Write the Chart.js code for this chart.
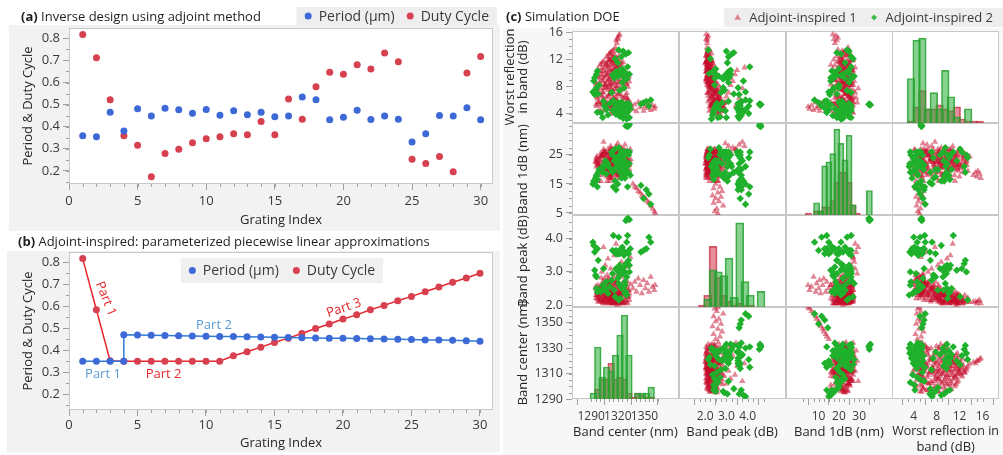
<!DOCTYPE html>
<html lang="en">
<head>
<meta charset="utf-8">
<title>Grating design and simulation DOE</title>
<script src="https://cdn.jsdelivr.net/npm/chart.js"></script>
<style>
  body { margin: 0; background: #fff; font-family: "Open Sans", sans-serif; }
  #page { position: relative; width: 1003px; height: 455px; overflow: hidden; }
  .shade { position: absolute; background: #f2f2f2; }
  .caption { position: absolute; font-size: 13px; line-height: 18px; color: #1e1e1e; white-space: nowrap; }
  canvas { position: absolute; }
</style>
</head>
<body>
<div id="page">
  <div class="shade" style="left:9px;top:25px;width:491px;height:206px"></div>
  <div class="shade" style="left:7px;top:251px;width:493px;height:201px"></div>
  <div class="shade" style="left:503px;top:28px;width:500px;height:427px;background:#f7f7f7"></div>
  <canvas id="chartA" width="500" height="230" style="left:0;top:0"></canvas>
  <canvas id="chartB" width="500" height="225" style="left:0;top:230px"></canvas>
  <canvas id="chartC" width="503" height="455" style="left:500px;top:0"></canvas>
  <div class="caption" style="left:21px;top:7px"><b>(a)</b> Inverse design using adjoint method</div>
  <div class="caption" style="left:18px;top:232px"><b>(b)</b> Adjoint-inspired: parameterized piecewise linear approximations</div>
  <div class="caption" style="left:506px;top:7px"><b>(c)</b> Simulation DOE</div>
</div>
<script>
/* ---- (a) adjoint-optimised grating ---- */
const gratingIndex = [1,2,3,4,5,6,7,8,9,10,11,12,13,14,15,16,17,18,19,20,21,22,23,24,25,26,27,28,29,30];
const periodAdjoint = [0.359,0.354,0.466,0.380,0.481,0.449,0.483,0.477,0.461,0.478,0.452,0.472,0.454,0.466,0.445,
                       0.449,0.534,0.522,0.431,0.443,0.474,0.433,0.448,0.434,0.331,0.368,0.451,0.449,0.486,0.431];
const dutyAdjoint = [0.818,0.712,0.522,0.359,0.316,0.173,0.279,0.298,0.327,0.345,0.354,0.368,0.363,0.424,0.363,
                     0.525,0.434,0.581,0.647,0.638,0.681,0.661,0.734,0.694,0.253,0.233,0.265,0.196,0.643,0.718];

/* ---- (b) piecewise linear version (period steps up at index 4) ---- */
const periodFitIndex = [1,2,3,4,4,5,6,7,8,9,10,11,12,13,14,15,16,17,18,19,20,21,22,23,24,25,26,27,28,29,30];
const periodFit = [0.35,0.35,0.35,0.35,0.470,0.469,0.468,0.467,0.466,0.465,0.464,0.463,0.462,0.461,0.460,0.459,
                   0.458,0.457,0.456,0.455,0.454,0.453,0.452,0.451,0.450,0.449,0.447,0.446,0.445,0.443,0.441];
const dutyFit = [0.817,0.584,0.352,0.350,0.350,0.350,0.350,0.350,0.350,0.350,0.350,0.375,0.393,0.414,0.435,
                 0.455,0.476,0.499,0.519,0.542,0.561,0.584,0.604,0.625,0.645,0.666,0.688,0.709,0.729,0.750];

const indexTicks = [0, 5, 10, 15, 20, 25, 30];
const ratioTicks = [0.2, 0.3, 0.4, 0.5, 0.6, 0.7, 0.8];

/* ---- (c) DOE runs: band center (nm), band peak (dB), 1 dB bandwidth (nm), worst in-band reflection (dB) ---- */
const redCenter = [1326,1312,1298,1305,1315,1322,1330,1310,1301,1318, 1327,1296,1300,1303,1306,1308,1311,1312,1313,1314,
  1316,1317,1319,1321,1323,1325,1328,1331,1333,1298, 1305,1310,1320,1297,1302,1307,1311,1314,1318,1322,
  1326,1329,1332,1309,1316,1295,1300,1304,1309,1312, 1315,1319,1323,1327,1330,1313,1306,1296,1299,1302,
  1305,1308,1310,1312,1314,1316,1318,1321,1324,1327, 1330,1333,1311,1297,1301,1304,1307,1310,1313,1315,
  1318,1320,1324,1328,1331,1312,1298,1302,1306,1309, 1313,1316,1319,1322,1325,1329,1311,1304,1300,1303,
  1307,1310,1312,1314,1316,1318,1321,1323,1326,1313, 1308,1319,1309,1312,1315,1319,1311,1314,1319,1320,
  1321,1318,1322,1320,1302,1306,1309,1312,1316,1320, 1324,1328,1331,1334,1304,1318,1337,1339,1341,1343,
  1345,1347,1349,1351,1353,1355,1357,1359,1361,1362,
  1299.5,1308.5,1317.5,1324.5,1332.5,1313.5,
  1295.5,1298.5,1301.5,1304.5,1307.5,1309.5,1311.5,1313.5,1315.5,1318.5,1322.5,1326.5,1329.5,1334.5,
  1296.5,1303.5,1310.5,1315.5,1320.5,1324.5,1330.5,1312.5,
  1297.5,1302.5,1307.5,1311.5,1316.5,1320.5,1325.5,1331.5,1314.5,
  1295.5,1300.5,1303.5,1306.5,1309.5,1313.5,1317.5,1319.5,1322.5,1326.5,1329.5,
  1299.5,1302.5,1305.5,1308.5,1311.5,1316.5,1319.5,1323.5,1327.5,1332.5,
  1297.5,1301.5,1305.5,1308.5,1312.5,1315.5,1318.5,1321.5,1324.5,1327.5,
  1301.5,1304.5,1306.5,1309.5,1311.5,1313.5,1315.5,1317.5,1320.5,1322.5,1324.5,1310.5,
  1307.5,1310.5,1313.5,1316.5,1318.5,1321.5,
  1312.5,1315.5,1317.5,1320.5];
const redPeak = [2.6,2.7,2.4,2.8,2.5,2.9,2.3,2.6,2.2,2.7, 2.45,2.3,2.5,2.7,2.4,2.9,2.35,2.6,2.2,2.75,
  2.45,2.3,2.65,2.5,2.85,2.4,2.55,2.7,2.35,2.6, 2.25,2.8,2.15,2.4,2.6,2.3,2.5,2.2,2.7,2.35,
  2.55,2.15,2.45,2.65,2.3,2.5,2.2,2.45,2.6,2.3, 2.15,2.55,2.25,2.4,2.1,2.35,2.7,2.3,2.1,2.4,
  2.2,2.5,2.15,2.35,2.05,2.45,2.2,2.3,2.1,2.4, 2.25,2.15,2.6,2.2,2.35,2.1,2.3,2.05,2.25,2.4,
  2.1,2.3,2.15,2.35,2.05,2.2,2.1,2.25,2.05,2.3, 2.15,2.35,2.1,2.2,2.05,2.3,2.45,2.15,2.15,2.05,
  2.25,2.1,2.3,2.05,2.2,2.1,2.35,2.15,2.05,2.25, 2.4,2.0,2.1,2.2,2.05,2.15,2.3,2.1,2.1,2.05,
  2.15,2.1,2.05,2.12,3.0,3.2,3.4,3.1,3.5,2.95, 3.3,3.6,3.15,3.45,3.75,3.85,2.5,2.7,2.4,2.8,
  2.6,2.35,2.75,2.5,2.65,2.4,2.85,2.55,2.45,2.6,
  2.52,2.78,2.63,2.91,2.44,2.36,
  2.57,2.33,2.82,2.48,2.68,2.29,2.74,2.41,2.86,2.55,2.37,2.71,2.46,2.62,
  2.38,2.59,2.27,2.66,2.43,2.31,2.58,2.49,
  2.28,2.51,2.19,2.42,2.33,2.16,2.47,2.24,2.56,
  2.21,2.44,2.13,2.36,2.27,2.52,2.18,2.39,2.11,2.31,2.23,
  2.26,2.09,2.34,2.17,2.29,2.12,2.37,2.22,2.08,2.28,
  2.17,2.32,2.11,2.24,2.06,2.28,2.14,2.35,2.19,2.07,
  2.12,2.27,2.08,2.21,2.33,2.14,2.06,2.25,2.11,2.29,2.09,2.18,
  2.16,2.08,2.23,2.12,2.27,2.05,
  2.13,2.21,2.09,2.17];
const redBand = [24,21,18,22,25,20,23,26,16,19, 27,21,24,19,26,22,17,25,23,20,
  27,24,21,18,25,22,26,23,20,16, 23,21,26,22,25,19,24,21,27,23,
  18,25,22,20,26,23,20,26,22,17, 24,21,27,19,24,25,23,24,21,18,
  25,22,20,26,23,19,24,22,27,21, 25,23,16,23,20,26,22,18,24,21,
  25,23,19,26,22,27,22,25,20,23, 17,24,21,26,23,19,22,27,23,20,
  25,22,18,24,21,26,23,20,25,27, 16,22,21,24,19,25,22,23,18,17.5,
  18.5,19,17,19.5,25,26,27,28,26.5,29, 27.5,28.5,25.5,27,29.5,28,15,14,13.5,12.5,
  12,11,10.5,10,9,8.5,7.5,6.5,5.5,4.8,
  20.5,23.5,18.5,25.5,21.5,26.5,
  22.5,19.5,24.5,21.5,17.5,23.5,25.5,20.5,22.5,26.5,19.5,24.5,21.5,23.5,
  24.5,21.5,18.5,25.5,22.5,20.5,26.5,23.5,
  21.5,24.5,19.5,22.5,25.5,23.5,20.5,22.5,17.5,
  22.5,25.5,20.5,23.5,18.5,21.5,24.5,22.5,26.5,23.5,19.5,
  21.5,24.5,22.5,19.5,25.5,23.5,20.5,22.5,24.5,21.5,
  23.5,20.5,25.5,22.5,18.5,24.5,21.5,23.5,26.5,20.5,
  22.5,19.5,24.5,21.5,26.5,23.5,20.5,22.5,25.5,21.5,23.5,17.5,
  22.5,25.5,20.5,23.5,21.5,24.5,
  22.5,19.5,24.5,21.5];
const redRefl = [3.8,3.9,4.2,4.5,4.8,4.3,4.6,4.9,4.4,4.7, 4.1,5.1,5.4,5.8,5.2,5.6,5.3,5.9,5.0,5.5,
  5.7,5.2,5.8,5.4,5.1,5.6,5.3,5.9,5.0,5.7, 5.5,5.2,5.8,6.2,6.7,6.4,6.9,6.1,6.5,6.8,
  6.3,6.6,6.0,6.5,6.2,7.3,7.7,7.1,7.5,7.9, 7.2,7.6,7.4,7.8,7.0,7.4,7.8,8.2,8.6,8.9,
  8.3,8.7,8.1,8.5,8.8,8.4,8.0,8.6,8.2,8.9, 8.4,8.7,8.3,9.4,9.8,9.2,9.6,9.1,9.9,9.3,
  9.7,9.0,9.5,9.8,9.2,9.5,10.3,10.7,10.1,10.9, 10.5,10.2,10.8,10.4,10.6,10.0,10.5,10.3,11.2,11.6,
  11.4,11.9,11.1,11.7,11.3,11.8,11.5,11.0,11.6,11.9, 11.2,11.4,12.3,12.7,12.5,12.1,12.9,13.2,14.4,15.0,
  15.5,14.8,15.7,15.2,6.5,8.2,9.8,7.1,10.4,5.6, 8.8,6.3,9.3,5.2,7.7,10.8,4.6,5.3,4.3,5.7,
  4.9,5.5,4.4,5.1,4.8,5.6,4.5,5.2,4.7,5.0,
  4.35,4.62,4.15,4.85,4.55,4.25,
  5.35,5.65,5.15,5.85,5.45,5.25,5.75,5.05,5.55,5.95,5.35,5.65,5.15,5.45,
  6.45,6.15,6.75,6.35,6.85,6.55,6.25,6.95,
  7.45,7.15,7.85,7.35,7.65,7.05,7.55,7.95,7.25,
  8.45,8.15,8.75,8.35,8.95,8.25,8.65,8.05,8.55,8.85,8.35,
  9.25,9.65,9.45,9.85,9.15,9.55,9.35,9.75,9.05,9.45,
  10.55,10.25,10.85,10.45,10.15,10.65,10.95,10.35,10.75,10.25,
  11.35,11.75,11.15,11.55,11.85,11.25,11.65,11.45,11.05,11.75,11.35,11.95,
  12.45,12.85,12.25,12.65,12.15,12.55,
  13.15,13.45,13.75,13.25];

const greenCenter = [1292,1293,1294,1295,1296,1297,1298,1296,1299,1297,1294, 1301,1303,1305,1307,1309,1311,1306,1304,
  1326,1322,1328,1318,1330,1324,1333,1316,1320,1325, 1327,1329,1331,1323,1314,1334,1321,1326,1318,1330,
  1317,1324,1328,1332,1315,1326,1320,1329,1322,1327, 1313,1325,1316,1319,1323,1327,1330,1333,1321,1328,
  1314,1318,1325,1331,1322,1328,1320,1324,1329,1317, 1326,1332,1321, 1357,1346,1352,1355,1349, 1332,1333,1331];
const greenPeak = [3.9,3.8,3.6,2.9,2.5,2.4,3.35,2.85,2.45,3.7,3.05, 2.4,2.6,2.5,2.7,2.35,2.55,2.45,3.1,
  3.6,3.55,2.7,3.65,2.3,3.7,3.0,3.6,3.55,3.75, 3.5,2.4,3.6,2.55,3.65,3.7,4.05,2.95,3.55,3.9,
  3.6,3.7,2.6,3.55,4.1,3.65,2.8,4.55,2.9,3.55, 2.75,3.1,2.45,3.05,2.2,3.15,2.85,3.2,2.65,3.0,
  2.95,3.1,2.5,4.1,3.2,2.35,3.05,3.1,3.25,2.25, 3.0,3.35,2.15, 3.9,3.6,3.7,4.05,3.65, 4.6,4.58,4.62];
const greenBand = [15,16,15.5,17,18,16.5,19,17.5,20,14,16, 20,19,21,18.5,22,20.5,23,21.5,
  22,19,25,24,21,17,26,20,15,23, 26,19,14,22,25,18,24,26,13,21,
  16,20,23,25,14,26,22,35,24,20, 26,25,23,21,25,18,26,22,27.5,17,
  19,24,20,26,25,18,23,26,21,27, 25,19,24, 8,14.5,13,11.5,10, 35,35.5,34.8];
const greenRefl = [7.2,8.8,6.8,7.5,9.8,10.3,6.9,7.8,8.2,4.2,9.3, 4.1,3.4,5.2,4.6,3.8,5.5,4.9,5.8,
  3.3,3.6,3.5,3.9,3.2,3.7,3.4,4.3,4.6,4.1, 4.8,4.4,4.2,4.9,4.5,4.7,4.0,4.4,4.8,4.6,
  5.3,5.7,5.1,5.5,5.9,5.2,5.6,5.4,7.4,7.8, 7.1,8.6,9.2,9.6,9.9,9.4,9.1,9.8,9.5,9.3,
  9.7,10.2,10.6,10.9,10.4,10.1,11.5,12.4,12.8,12.1, 13.2,13.0,13.4, 6.0,5.4,5.8,5.1,5.6, 5.3,5.25,5.35];

// histogram bins (bin centres) and bar heights for the diagonal cells
const reflBins = [3.5,4.5,5.5,6.5,7.5,8.5,9.5,10.5,11.5,12.5,13.5,14.5,15.5];
const reflHistRed = [1,8,16,7,7,9,7,6,8,2,1,1,1];
const reflHistGreen = [22,41,42,7,15,7,26,13,3,0,7,0,0];
const bandBins = [5,7,9,11,13,15,17,19,21,23,25,27,29,31,33,35];
const bandHistRed = [1,0,2,2,4,4,7,16,21,21,16,5,1,0,0,0];
const bandHistGreen = [0,0,6,2,24,26,30,42,35,27,39,5,0,0,0,12];
const peakBins = [1.875,2.125,2.375,2.625,2.875,3.125,3.375,3.625,3.875,4.125,4.375,4.625];
const peakHistRed = [1,6,31,15,6,3,1,2,1,1,0,0];
const peakHistGreen = [0,4,19,18,16,25,5,43,13,6,0,8];
const centerBins = [1292.5,1297.5,1302.5,1307.5,1312.5,1317.5,1322.5,1327.5,1332.5,1337.5,1342.5,1347.5,1352.5,1357.5];
const centerHistRed = [0,5,10,10,18,10,11,10,3,1,3,2,1,1];
const centerHistGreen = [3,26,11,16,14,22,32,42,22,0,3,3,3,6];

const reflTicks = [4, 8, 12, 16];
const bandTicksRow = [5, 15, 25];
const bandTicksCol = [10, 20, 30];
const peakTicks = [2, 3, 4];
const centerTicksRow = [1290, 1310, 1330, 1350];
const centerTicksCol = [1290, 1320, 1350];

/* ---- shared styling ---- */
const FONT = '"Open Sans", sans-serif';
const INK = '#3a3a3a';
const TICK = '#a0a0a0';
const FRAME = '#c8c8c8';
const BLUE = '#3d69d6';
const RED = '#d6404f';

function drawMarker(ctx, style, x, y, r) {
  ctx.beginPath();
  if (style === 'circle') {
    ctx.arc(x, y, r, 0, Math.PI * 2);
  } else if (style === 'triangle') {
    ctx.moveTo(x, y - r);
    ctx.lineTo(x + r * 0.95, y + r * 0.65);
    ctx.lineTo(x - r * 0.95, y + r * 0.65);
  } else {
    ctx.moveTo(x, y - r); ctx.lineTo(x + r, y); ctx.lineTo(x, y + r); ctx.lineTo(x - r, y);
  }
  ctx.closePath();
  ctx.fill();
}

// white plot cells with a thin grey outline
function framePlugin(cells) {
  return {
    id: 'frames',
    beforeDatasetsDraw(chart) {
      const ctx = chart.ctx;
      ctx.save();
      ctx.fillStyle = '#fff';
      ctx.strokeStyle = FRAME;
      ctx.lineWidth = 1;
      cells.forEach(([xId, yId]) => {
        const xs = chart.scales[xId], ys = chart.scales[yId];
        ctx.fillRect(xs.left, ys.top, xs.width, ys.height);
      });
      cells.forEach(([xId, yId]) => {
        const xs = chart.scales[xId], ys = chart.scales[yId];
        ctx.strokeRect(Math.round(xs.left) + 0.5, Math.round(ys.top) + 0.5, Math.round(xs.width) - 1, Math.round(ys.height) - 1);
      });
      ctx.restore();
    }
  };
}

// short unlabeled ticks between the labeled ones
function minorTickPlugin(steps) {
  return {
    id: 'minorTicks',
    afterDraw(chart) {
      const ctx = chart.ctx;
      ctx.save();
      ctx.strokeStyle = TICK;
      ctx.lineWidth = 1;
      ctx.beginPath();
      Object.entries(steps).forEach(([id, step]) => {
        const s = chart.scales[id];
        for (let n = Math.ceil(s.min / step - 1e-9); n * step <= s.max + 1e-9; n++) {
          const p = Math.round(s.getPixelForValue(n * step)) + 0.5;
          if (s.isHorizontal()) { ctx.moveTo(p, s.top); ctx.lineTo(p, s.top + 3); }
          else { ctx.moveTo(s.right - 3, p); ctx.lineTo(s.right, p); }
        }
      });
      ctx.stroke();
      ctx.restore();
    }
  };
}

// legend drawn on a grey box
function boxLegend(cfg) {
  return {
    id: 'boxLegend',
    afterDraw(chart) {
      const ctx = chart.ctx;
      ctx.save();
      ctx.font = cfg.font;
      const widths = cfg.items.map(it => cfg.marker * 2 + cfg.gap + ctx.measureText(it.text).width);
      const total = widths.reduce((a, b) => a + b, 0) + cfg.spacing * (cfg.items.length - 1) + cfg.pad * 2;
      const left = cfg.align === 'right' ? cfg.x - total : cfg.align === 'center' ? cfg.x - total / 2 : cfg.x;
      ctx.fillStyle = cfg.bg;
      ctx.fillRect(left, cfg.y, total, cfg.h);
      const cy = cfg.y + cfg.h / 2;
      let x = left + cfg.pad;
      cfg.items.forEach((it, i) => {
        ctx.fillStyle = it.color;
        drawMarker(ctx, it.style, x + cfg.marker, cy, it.radius || cfg.marker);
        ctx.fillStyle = INK;
        ctx.textBaseline = 'middle';
        ctx.fillText(it.text, x + cfg.marker * 2 + cfg.gap, cy + 1);
        x += widths[i] + cfg.spacing;
      });
      ctx.restore();
    }
  };
}

function setTicks(values) {
  return scale => { scale.ticks = values.map(value => ({ value })); };
}

function axis(o) {
  const vertical = o.position === 'left';
  return {
    type: 'linear',
    position: o.position,
    stack: o.stack,
    stackWeight: 1,
    min: o.min,
    max: o.max,
    afterBuildTicks: setTicks(o.ticks),
    afterFit: s => {
      if (vertical) s.width = o.size; else s.height = o.size;
      s.paddingTop = 0; s.paddingBottom = 0; s.paddingLeft = 0; s.paddingRight = 0;
    },
    ticks: {
      autoSkip: false, maxRotation: 0, padding: o.tickPad, color: INK,
      font: { family: FONT, size: o.tickSize || 13 },
      callback: o.fmt || (v => String(v))
    },
    grid: { display: true, drawOnChartArea: false, tickLength: 6, tickColor: TICK },
    border: { display: false },
    title: {
      display: true, text: o.title, color: '#262626',
      font: { family: FONT, size: 13, lineHeight: o.lineHeight || 1.2 },
      padding: o.titlePad
    }
  };
}

const oneDecimal = v => v.toFixed(1);
const baseOptions = {
  animation: false,
  responsive: false,
  events: [],
  plugins: { legend: { display: false }, tooltip: { enabled: false } }
};

/* ---- (a) ---- */
new Chart(document.getElementById('chartA'), {
  type: 'scatter',
  data: {
    datasets: [
      { label: 'Period (µm)', data: gratingIndex.map((g, i) => ({ x: g, y: periodAdjoint[i] })),
        pointBackgroundColor: BLUE, pointBorderWidth: 0, borderWidth: 0, pointRadius: 3.5 },
      { label: 'Duty Cycle', data: gratingIndex.map((g, i) => ({ x: g, y: dutyAdjoint[i] })),
        pointBackgroundColor: RED, pointBorderWidth: 0, borderWidth: 0, pointRadius: 3.5 }
    ]
  },
  options: {
    ...baseOptions,
    layout: { padding: { left: 0, top: 28, right: 7, bottom: 0 } },
    scales: {
      x: axis({ position: 'bottom', min: 0, max: 30.9, ticks: indexTicks, size: 46, tickPad: 3,
                title: 'Grating Index', titlePad: { top: 0, bottom: 1.5 } }),
      y: axis({ position: 'left', min: 0.1405, max: 0.847, ticks: ratioTicks, size: 69, tickPad: 3, fmt: oneDecimal,
                title: 'Period & Duty Cycle', titlePad: { top: 20, bottom: 0 } })
    }
  },
  plugins: [
    framePlugin([['x', 'y']]),
    minorTickPlugin({ x: 1, y: 0.05 }),
    boxLegend({ x: 497, y: 7, h: 18, align: 'right', font: '14px ' + FONT, pad: 8, marker: 3.5, gap: 7, spacing: 12,
                bg: '#eeeeee', items: [
                  { text: 'Period (µm)', style: 'circle', color: BLUE },
                  { text: 'Duty Cycle', style: 'circle', color: RED }
                ] })
  ]
});

/* ---- (b) ---- */
const partNotes = [
  { text: 'Part 1', x: 2.68, y: 0.634, angle: 68, color: '#e8262b' },
  { text: 'Part 1', x: 2.48, y: 0.291, angle: 0, color: '#5b9bd5' },
  { text: 'Part 2', x: 6.90, y: 0.291, angle: 0, color: '#e8262b' },
  { text: 'Part 2', x: 10.58, y: 0.514, angle: 0, color: '#5b9bd5' },
  { text: 'Part 3', x: 20.07, y: 0.592, angle: -19, color: '#e8262b' }
];

const partLabels = {
  id: 'partLabels',
  afterDatasetsDraw(chart) {
    const ctx = chart.ctx;
    ctx.save();
    ctx.font = '13px ' + FONT;
    ctx.textAlign = 'center';
    ctx.textBaseline = 'middle';
    partNotes.forEach(n => {
      ctx.save();
      ctx.translate(chart.scales.x.getPixelForValue(n.x), chart.scales.y.getPixelForValue(n.y));
      ctx.rotate(n.angle * Math.PI / 180);
      ctx.fillStyle = n.color;
      ctx.fillText(n.text, 0, 0);
      ctx.restore();
    });
    ctx.restore();
  }
};

new Chart(document.getElementById('chartB'), {
  type: 'scatter',
  data: {
    datasets: [
      { label: 'Period (µm)', showLine: true, data: periodFitIndex.map((g, i) => ({ x: g, y: periodFit[i] })),
        borderColor: '#2f7bd6', borderWidth: 1.5, pointBackgroundColor: BLUE, pointBorderWidth: 0, pointRadius: 3.5 },
      { label: 'Duty Cycle', showLine: true, data: gratingIndex.map((g, i) => ({ x: g, y: dutyFit[i] })),
        borderColor: '#e8262b', borderWidth: 1.5, pointBackgroundColor: RED, pointBorderWidth: 0, pointRadius: 3.5 }
    ]
  },
  options: {
    ...baseOptions,
    layout: { padding: { left: 0, top: 22, right: 7, bottom: 0 } },
    scales: {
      x: axis({ position: 'bottom', min: 0, max: 30.95, ticks: indexTicks, size: 45, tickPad: 1,
                title: 'Grating Index', titlePad: { top: 0, bottom: 4 } }),
      y: axis({ position: 'left', min: 0.128, max: 0.847, ticks: ratioTicks, size: 69, tickPad: 3, fmt: oneDecimal,
                title: 'Period & Duty Cycle', titlePad: { top: 20, bottom: 0 } })
    }
  },
  plugins: [
    framePlugin([['x', 'y']]),
    minorTickPlugin({ x: 1, y: 0.05 }),
    partLabels,
    boxLegend({ x: 282, y: 28, h: 25, align: 'center', font: '14px ' + FONT, pad: 8, marker: 3.5, gap: 7, spacing: 14,
                bg: '#f0f0f0', items: [
                  { text: 'Period (µm)', style: 'circle', color: BLUE },
                  { text: 'Duty Cycle', style: 'circle', color: RED }
                ] })
  ]
});

/* ---- (c) scatterplot matrix ---- */
const series = {
  red: { center: redCenter, peak: redPeak, band: redBand, refl: redRefl },
  green: { center: greenCenter, peak: greenPeak, band: greenBand, refl: greenRefl }
};
const hist = {
  refl: { bins: reflBins, step: 1, red: reflHistRed, green: reflHistGreen, max: 45.5 },
  band: { bins: bandBins, step: 2, red: bandHistRed, green: bandHistGreen, max: 45 },
  peak: { bins: peakBins, step: 0.25, red: peakHistRed, green: peakHistGreen, max: 47 },
  center: { bins: centerBins, step: 5, red: centerHistRed, green: centerHistGreen, max: 46 }
};
const look = {
  red: { point: 'triangle', fill: 'rgba(198,14,44,0.5)', radius: 3.7,
         bar: 'rgba(206,38,60,0.52)', edge: 'rgba(196,40,60,0.75)', order: 2 },
  green: { point: 'rectRot', fill: '#1fb02c', radius: 3.7,
           bar: 'rgba(40,172,52,0.55)', edge: 'rgba(36,160,48,0.85)', order: 1 }
};

const rowVars = ['refl', 'band', 'peak', 'center'];
const colVars = ['center', 'peak', 'band', 'refl'];
const rowAxes = {
  refl: { min: 2.6, max: 16.2, ticks: reflTicks, title: ['Worst reflection', 'in band (dB)'], pad: 3.5, minor: 1 },
  band: { min: 4.3, max: 36, ticks: bandTicksRow, title: 'Band 1dB (nm)', pad: 16.5, minor: 2.5 },
  peak: { min: 1.94, max: 4.72, ticks: peakTicks, title: 'Band peak (dB)', pad: 16.5, minor: 0.25, fmt: oneDecimal },
  center: { min: 1290, max: 1362.3, ticks: centerTicksRow, title: 'Band center (nm)', pad: 16.5, minor: 5 }
};
const colAxes = {
  center: { min: 1288.5, max: 1368.5, ticks: centerTicksCol, title: 'Band center (nm)', pad: 14.5, minor: 5 },
  peak: { min: 1.6, max: 4.94, ticks: peakTicks, title: 'Band peak (dB)', pad: 14.5, minor: 0.25, fmt: oneDecimal },
  band: { min: 2.45, max: 37.5, ticks: bandTicksCol, title: 'Band 1dB (nm)', pad: 14.5, minor: 2.5 },
  refl: { min: 2.57, max: 16.55, ticks: reflTicks, title: ['Worst reflection in', 'band (dB)'], pad: 0, minor: 1 }
};
const CELL_W = (503 - 72 - 4) / 4;

const matrixScales = {};
const minorSteps = {};
// stacked left axes are laid out top-down in reverse definition order
[...rowVars].reverse().forEach(v => {
  const a = rowAxes[v];
  matrixScales['y_' + v] = axis({ position: 'left', stack: 'rows', min: a.min, max: a.max, ticks: a.ticks, size: 72,
    tickPad: 3, tickSize: 12.5, fmt: a.fmt, title: a.title, lineHeight: 1.0, titlePad: { top: a.pad, bottom: 0 } });
  minorSteps['y_' + v] = a.minor;
});
colVars.forEach(v => {
  const a = colAxes[v];
  matrixScales['x_' + v] = axis({ position: 'bottom', stack: 'cols', min: a.min, max: a.max, ticks: a.ticks, size: 56,
    tickPad: 4, tickSize: 12, fmt: a.fmt, title: a.title, titlePad: { top: 0, bottom: a.pad } });
  minorSteps['x_' + v] = a.minor;
});
// hidden count axes for the histograms, one per row
rowVars.forEach(v => {
  matrixScales['n_' + v] = { type: 'linear', position: 'right', stack: 'counts', stackWeight: 1,
    display: false, min: 0, max: hist[v].max };
});

const matrixSets = [];
const cells = [];
rowVars.forEach(rv => colVars.forEach(cv => {
  const xAxisID = 'x_' + cv;
  cells.push([xAxisID, 'y_' + rv]);
  ['red', 'green'].forEach(g => {
    const st = look[g];
    if (rv === cv) {
      const h = hist[rv];
      // bars span the full bin so neighbouring bins touch
      const binWidth = CELL_W * h.step / (colAxes[cv].max - colAxes[cv].min);
      matrixSets.push({
        type: 'bar', xAxisID, yAxisID: 'n_' + rv,
        data: h.bins.map((b, i) => ({ x: b, y: h[g][i] })),
        backgroundColor: st.bar, borderColor: st.edge, borderWidth: 1,
        barThickness: binWidth, grouped: false, order: st.order
      });
    } else {
      const xs = series[g][cv], ys = series[g][rv];
      matrixSets.push({
        type: 'scatter', xAxisID, yAxisID: 'y_' + rv,
        data: xs.map((v, i) => ({ x: v, y: ys[i] })),
        pointStyle: st.point, pointRadius: st.radius, pointBackgroundColor: st.fill,
        pointBorderWidth: 0, borderWidth: 0, order: st.order
      });
    }
  });
}));

new Chart(document.getElementById('chartC'), {
  type: 'scatter',
  data: { datasets: matrixSets },
  options: {
    ...baseOptions,
    layout: { padding: { left: 0, top: 31, right: 2, bottom: 0 } },
    scales: matrixScales
  },
  plugins: [
    framePlugin(cells),
    minorTickPlugin(minorSteps),
    boxLegend({ x: 503, y: 8, h: 19, align: 'right', font: '13px ' + FONT, pad: 10, marker: 3.5, gap: 8, spacing: 14,
                bg: '#eeeeee', items: [
                  { text: 'Adjoint-inspired 1', style: 'triangle', color: 'rgba(214,60,80,0.6)' },
                  { text: 'Adjoint-inspired 2', style: 'diamond', color: '#3dbb48', radius: 3 }
                ] })
  ]
});
</script>
</body>
</html>
